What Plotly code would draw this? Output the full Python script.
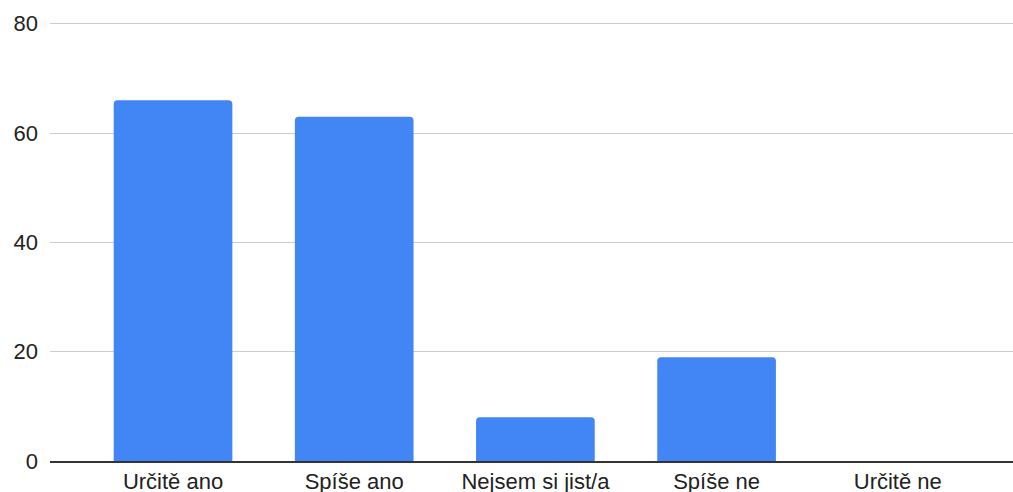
import plotly.graph_objects as go

# Survey answers and response counts
categories = ["Určitě ano", "Spíše ano", "Nejsem si jist/a", "Spíše ne", "Určitě ne"]
counts = [66, 63, 8, 19, 0]
y_ticks = [0, 20, 40, 60, 80]

fig = go.Figure(
    go.Bar(
        x=categories,
        y=counts,
        marker=dict(color="#4285F4", line=dict(width=0), cornerradius=4),
        width=0.655,
        hoverinfo="x+y",
    )
)

fig.update_layout(
    width=1013,
    height=492,
    margin=dict(l=50, r=0, t=21, b=31),
    paper_bgcolor="white",
    plot_bgcolor="white",
    font=dict(family="Liberation Sans, Arial, Helvetica, sans-serif", size=22, color="#222222"),
    showlegend=False,
)

fig.update_xaxes(
    range=[-0.679, 4.636],
    showgrid=False,
    showline=True,
    linecolor="#333333",
    linewidth=1.5,
    ticks="",
    zeroline=False,
    ticklabelstandoff=0,
    automargin=False,
)

fig.update_yaxes(
    range=[0, 80.5],
    tickvals=y_ticks,
    showgrid=True,
    gridcolor="#CCCCCC",
    gridwidth=1,
    zeroline=False,
    showline=False,
    ticks="",
    ticklabelstandoff=11,
    automargin=False,
)

fig.write_html("out.html")
